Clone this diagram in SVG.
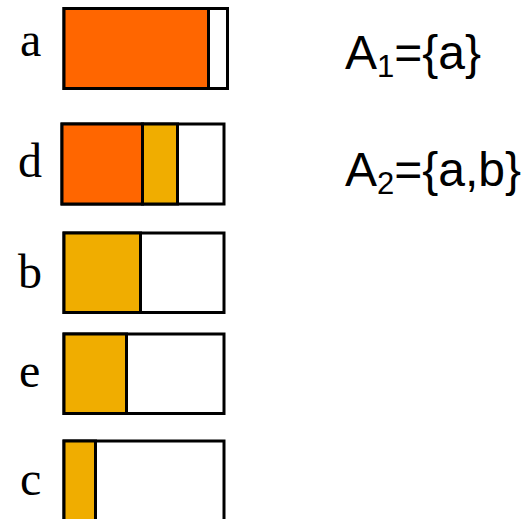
<svg xmlns="http://www.w3.org/2000/svg" width="529" height="519" viewBox="0 0 529 519">
<style>
.lbl{font-family:"Liberation Serif",serif;font-size:48px;fill:#000}
.set{font-family:"Liberation Sans",Arial,sans-serif;font-size:48px;fill:#000}
.sub{font-size:31px}
.box{fill:#fff;stroke:#000;stroke-width:3}
.o{fill:#FF6600;stroke:#000;stroke-width:3}
.y{fill:#F0AD00;stroke:#000;stroke-width:3}
</style>
<rect width="529" height="519" fill="#fff"/>
<g id="node-a">
<rect class="box" x="64" y="8.5" width="163.5" height="80"/>
<rect class="o" x="64" y="8.5" width="144.5" height="80"/>
<text class="lbl" x="20" y="56">a</text>
</g>
<g id="node-d">
<rect class="box" x="62" y="124" width="162" height="80"/>
<rect class="y" x="142.5" y="124" width="35" height="80"/>
<rect class="o" x="62" y="124" width="80.5" height="80"/>
<text class="lbl" x="18" y="177">d</text>
</g>
<g id="node-b">
<rect class="box" x="64" y="233" width="160" height="79.5"/>
<rect class="y" x="64" y="233" width="76.5" height="79.5"/>
<text class="lbl" x="18" y="288">b</text>
</g>
<g id="node-e">
<rect class="box" x="64" y="334" width="160" height="79.5"/>
<rect class="y" x="64" y="334" width="62.5" height="79.5"/>
<text class="lbl" x="19" y="387">e</text>
</g>
<g id="node-c">
<rect class="box" x="64" y="441" width="160" height="90"/>
<rect class="y" x="64" y="441" width="31.5" height="90"/>
<text class="lbl" x="20" y="495">c</text>
</g>
<g id="sets">
<text class="set" x="345" y="69">A<tspan class="sub" dy="8">1</tspan><tspan dy="-8">={a}</tspan></text>
<text class="set" x="345" y="186">A<tspan class="sub" dy="8">2</tspan><tspan dy="-8">={a,b}</tspan></text>
</g>
<g id="connectors"></g>
</svg>
